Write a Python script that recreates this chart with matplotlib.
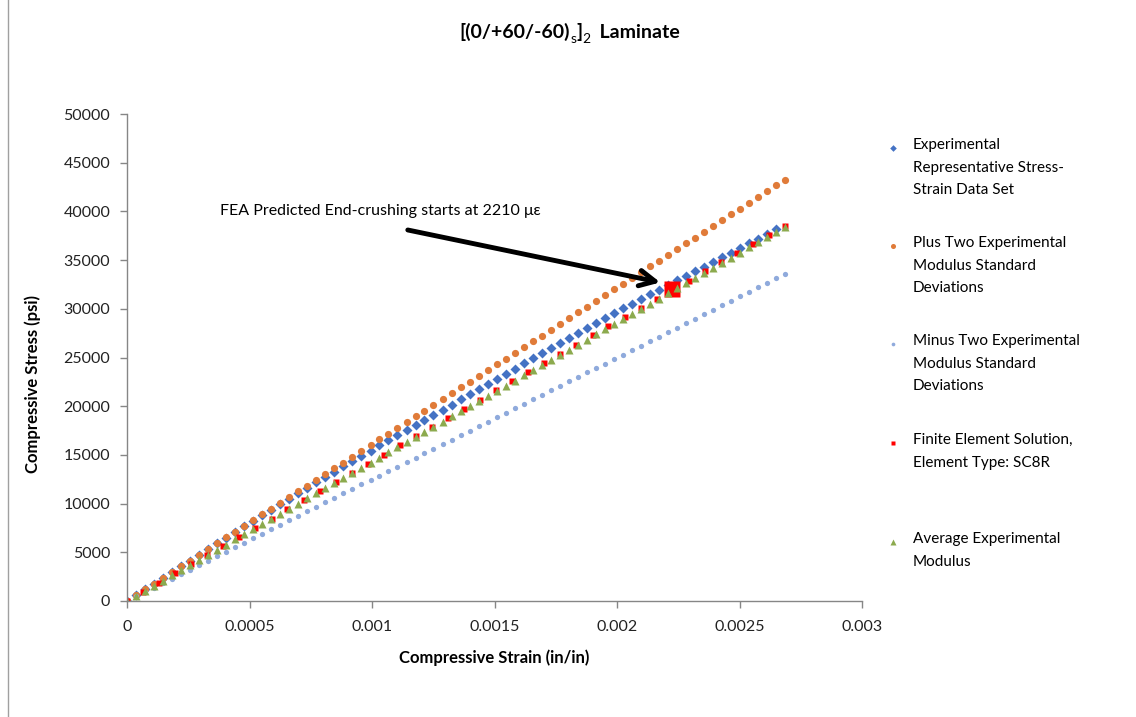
import matplotlib
matplotlib.use('Agg')
import matplotlib.pyplot as plt
from matplotlib.lines import Line2D
from matplotlib.patches import Rectangle

plt.rcParams['font.family'] = ['Lato', 'DejaVu Sans']

# strain in microstrain (converted to in/in below)
strain_grid = [0, 37, 74, 110, 147, 184, 221, 258, 294, 331, 368, 405, 442, 478, 515, 552,
               589, 626, 662, 699, 736, 773, 810, 846, 883, 920, 957, 994, 1030, 1067, 1104,
               1141, 1178, 1214, 1251, 1288, 1325, 1362, 1398, 1435, 1472, 1509, 1546, 1582,
               1619, 1656, 1693, 1730, 1766, 1803, 1840, 1877, 1914, 1950, 1987, 2024, 2061,
               2098, 2134, 2171, 2208, 2245, 2282, 2318, 2355, 2392, 2429, 2466, 2502, 2539,
               2576, 2613, 2650, 2686]

exp_stress = [0, 596, 1191, 1771, 2367, 2962, 3558, 4154, 4733, 5329, 5925, 6518, 7099, 7660,
              8235, 8807, 9377, 9944, 10493, 11055, 11614, 12171, 12725, 13262, 13811, 14357,
              14901, 15442, 15966, 16502, 17036, 17566, 18094, 18606, 19129, 19649, 20167,
              20692, 21215, 21751, 22286, 22819, 23351, 23868, 24397, 24925, 25451, 25978,
              26487, 27011, 27532, 28052, 28570, 29075, 29579, 30063, 30544, 31025, 31489,
              31964, 32436, 32906, 33374, 33831, 34321, 34808, 35293, 35777, 36247, 36727,
              37207, 37685, 38160]

plus_stress = [0, 596, 1191, 1771, 2367, 2962, 3558, 4154, 4733, 5329, 5925, 6521, 7116, 7696,
               8292, 8887, 9483, 10079, 10658, 11254, 11850, 12445, 13041, 13621, 14216, 14812,
               15408, 16003, 16583, 17179, 17774, 18370, 18966, 19545, 20141, 20737, 21333,
               21928, 22508, 23104, 23699, 24295, 24891, 25470, 26066, 26662, 27257, 27853,
               28433, 29028, 29624, 30220, 30815, 31395, 31991, 32586, 33182, 33778, 34357,
               34953, 35549, 36145, 36740, 37320, 37916, 38511, 39107, 39703, 40282, 40878,
               41474, 42069, 42665, 43245]

minus_stress = [0, 463, 925, 1375, 1838, 2300, 2763, 3225, 3675, 4138, 4600, 5063, 5525, 5975,
                6438, 6900, 7363, 7825, 8275, 8738, 9200, 9663, 10125, 10575, 11038, 11500,
                11963, 12425, 12875, 13338, 13800, 14263, 14725, 15175, 15638, 16100, 16563,
                17025, 17475, 17938, 18400, 18863, 19325, 19775, 20238, 20700, 21163, 21625,
                22075, 22538, 23000, 23463, 23925, 24375, 24838, 25300, 25763, 26225, 26675,
                27138, 27600, 28063, 28525, 28975, 29438, 29900, 30363, 30825, 31275, 31738,
                32200, 32663, 33125, 33575]

avg_stress = [0, 529, 1058, 1573, 2102, 2631, 3160, 3689, 4204, 4733, 5262, 5792, 6321, 6835,
              7365, 7894, 8423, 8952, 9467, 9996, 10525, 11054, 11583, 12098, 12627, 13156,
              13685, 14214, 14729, 15258, 15787, 16316, 16845, 17360, 17889, 18418, 18948,
              19477, 19991, 20521, 21050, 21579, 22108, 22623, 23152, 23681, 24210, 24739,
              25254, 25783, 26312, 26841, 27370, 27885, 28414, 28943, 29472, 30001, 30516,
              31045, 31574, 32104, 32633, 33147, 33677, 34206, 34735, 35264, 35779, 36308,
              36837, 37366, 37895, 38410]

fea_strain = [0, 66, 131, 197, 262, 328, 393, 459, 524, 590, 655, 721, 786, 852, 917, 983,
              1048, 1114, 1179, 1245, 1310, 1376, 1441, 1507, 1572, 1638, 1703, 1769, 1834,
              1900, 1965, 2031, 2096, 2162, 2227, 2293, 2358, 2424, 2489, 2555, 2620, 2686]
fea_stress = [0, 947, 1880, 2827, 3760, 4707, 5640, 6587, 7519, 8467, 9399, 10346, 11279,
              12226, 13159, 14106, 15039, 15986, 16919, 17866, 18799, 19746, 20678, 21625,
              22558, 23505, 24438, 25385, 26318, 27265, 28198, 29145, 30078, 31025, 31957,
              32905, 33837, 34784, 35717, 36664, 37597, 38544]

crush_strain = 2225
crush_stress = 32000

labels = ['Experimental\nRepresentative Stress-\nStrain Data Set',
          'Plus Two Experimental\nModulus Standard\nDeviations',
          'Minus Two Experimental\nModulus Standard\nDeviations',
          'Finite Element Solution,\nElement Type: SC8R',
          'Average Experimental\nModulus']

x_grid = [s * 1e-6 for s in strain_grid]
x_fea = [s * 1e-6 for s in fea_strain]

W, H = 1136, 717
fig = plt.figure(figsize=(W / 100, H / 100), dpi=100)
ax = fig.add_axes([127 / W, 1 - 601 / H, (862 - 127) / W, (601 - 114) / H])

styles = [
    dict(marker='D', color='#4472C4', ms=4.8),
    dict(marker='o', color='#E07B39', ms=5.2),
    dict(marker='o', color='#8FAADC', ms=3.8),
    dict(marker='s', color='#FF0000', ms=5.0),
    dict(marker='^', color='#8CAA4E', ms=5.6),
]

ax.plot(x_grid[:len(exp_stress)], exp_stress, ls='none', mec='none', **styles[0])
ax.plot(x_grid, plus_stress, ls='none', mec='none', **styles[1])
ax.plot(x_grid, minus_stress, ls='none', mec='none', **styles[2])
ax.plot(x_fea, fea_stress, ls='none', mec='none', **styles[3])
ax.plot([crush_strain * 1e-6], [crush_stress], ls='none', marker='s', color='#FF0000',
        ms=11.5, mec='none')
ax.plot(x_grid, avg_stress, ls='none', mec='none', **styles[4])

ax.set_xlim(0, 0.003)
ax.set_ylim(0, 50000)
ax.set_xticks([0, 0.0005, 0.001, 0.0015, 0.002, 0.0025, 0.003])
ax.set_xticklabels(['0', '0.0005', '0.001', '0.0015', '0.002', '0.0025', '0.003'])
ax.set_yticks(range(0, 50001, 5000))
ax.set_yticklabels([str(v) for v in range(0, 50001, 5000)])
for side in ['top', 'right']:
    ax.spines[side].set_visible(False)
for side in ['left', 'bottom']:
    ax.spines[side].set_color('#868686')
    ax.spines[side].set_linewidth(1.0)
ax.tick_params(axis='both', direction='out', length=5, width=1, color='#868686',
               labelsize=11.5, labelcolor='#222222')
ax.tick_params(axis='y', pad=7)
ax.tick_params(axis='x', pad=9)

ax.set_xlabel('Compressive Strain (in/in)', fontsize=12, fontweight='bold', labelpad=11)
fig.text(33 / W, 1 - 384 / H, 'Compressive Stress (psi)', rotation=90, fontsize=12,
         fontweight='bold', ha='center', va='center')

# title built from pieces so the subscripts keep plain hyphens
renderer = fig.canvas.get_renderer()
title_y = 1 - 38 / H
pieces = [('[(0/+60/-60)', 14, 'bold', 0), ('s', 10, 'normal', -5), (']', 14, 'bold', 0),
          ('2', 10, 'normal', -5), ('  Laminate', 14, 'bold', 0)]
texts = []
total = 0
for txt, size, weight, dy in pieces:
    t = fig.text(0, title_y + dy / H, txt, fontsize=size, fontweight=weight,
                 ha='left', va='baseline')
    w = t.get_window_extent(renderer).width
    texts.append((t, w))
    total += w
x = 570 - total / 2
for t, w in texts:
    t.set_x(x / W)
    x += w

ax.annotate('', xy=(0.002188, 32650), xytext=(0.001135, 38150),
            arrowprops=dict(arrowstyle='->', lw=3.5, color='black', mutation_scale=28))
ax.text(0.00038, 40050, 'FEA Predicted End-crushing starts at 2210 \u03bc\u03b5', fontsize=11.5,
        ha='left', va='center')

# legend drawn by hand so the marker sits on the first line of each label
legend_y = [148, 246, 344, 443, 542]
for st, lab, yy in zip(styles, labels, legend_y):
    fy = 1 - yy / H
    fig.add_artist(Line2D([893 / W], [fy], marker=st['marker'], color=st['color'],
                          ms=st['ms'] * 0.7, mec='none', ls='none'))
    fig.text(913 / W, fy + 10 / H, lab, fontsize=11, ha='left', va='top', linespacing=1.78)

fig.add_artist(Rectangle((8 / W, -0.01), 1.2, 1.02, transform=fig.transFigure,
                         fill=False, edgecolor='#A0A0A0', lw=1))

fig.savefig('out.png', dpi=100)
